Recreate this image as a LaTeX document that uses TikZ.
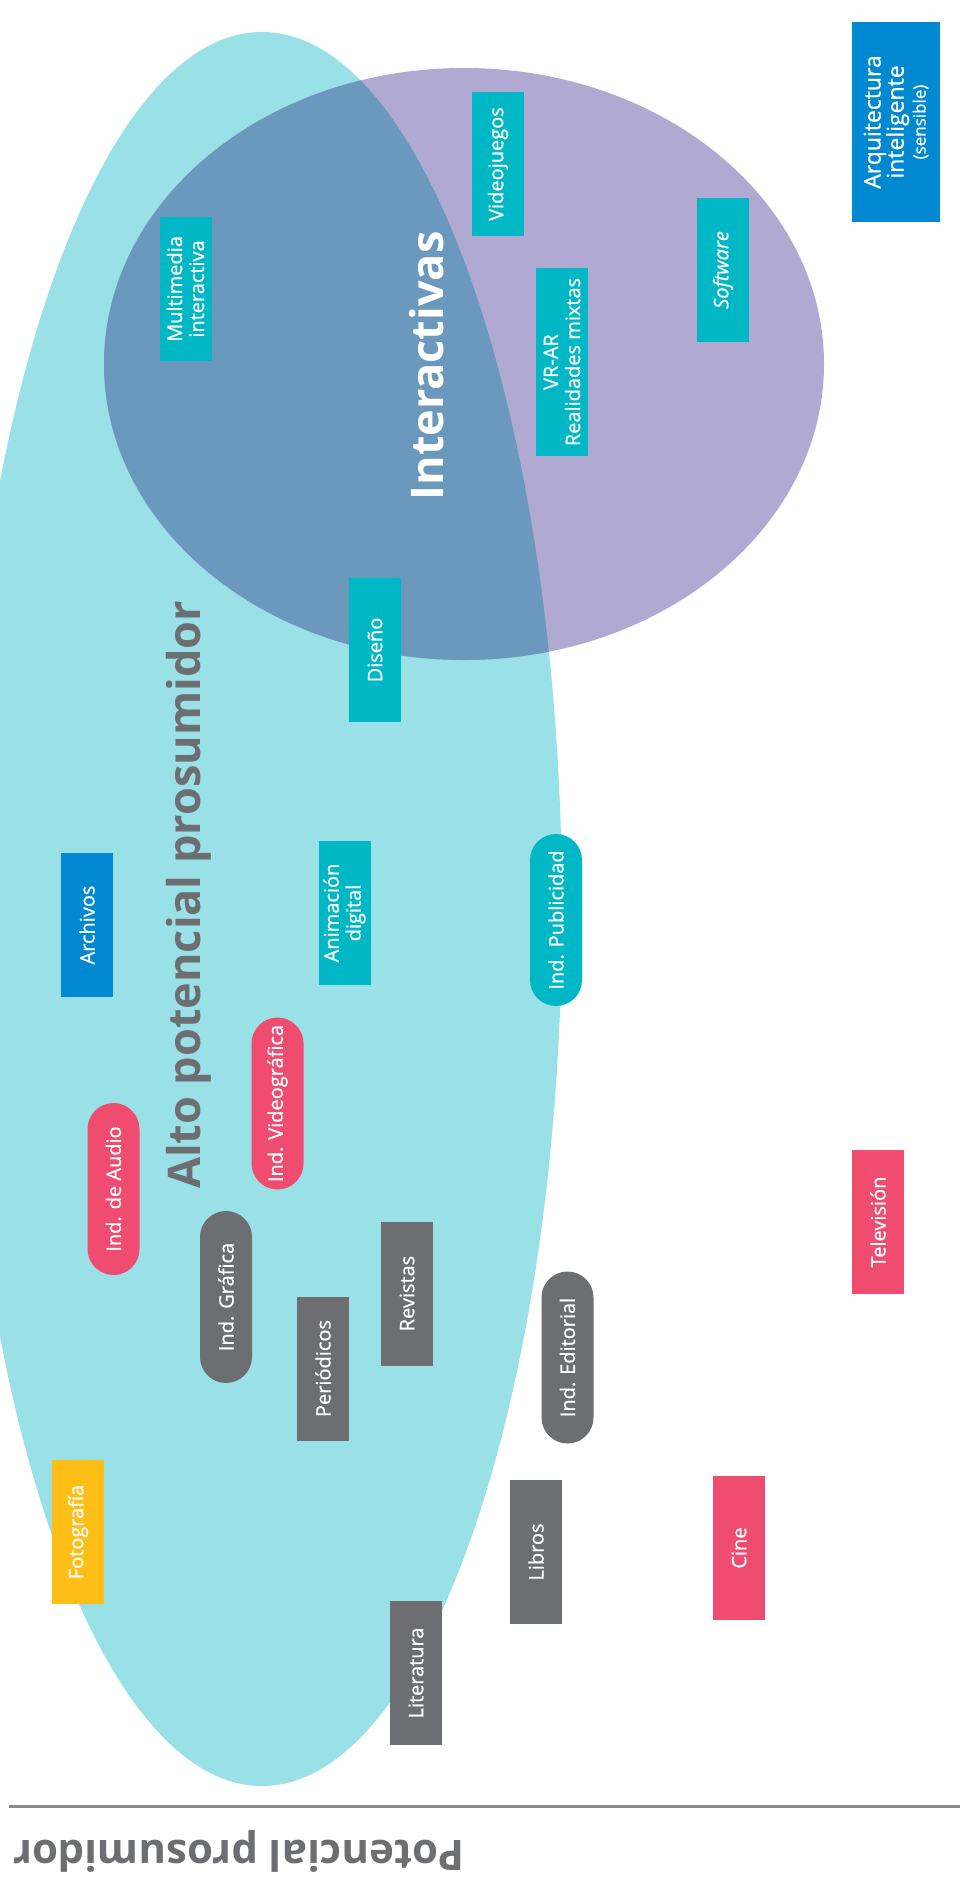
\documentclass[tikz,border=0pt]{standalone}
\usepackage{fontspec}
\setmainfont{Open Sans}
\newfontfamily\labelfont[FakeBold=0.7]{Open Sans}
\newfontfamily\labelitfont[FakeBold=0.7]{Open Sans Italic}

\definecolor{cyanzone}{HTML}{99E1E6}
\definecolor{purplezone}{HTML}{B0AAD3}
\definecolor{overlapzone}{HTML}{6A99BD}
\definecolor{tealbox}{HTML}{00B8C5}
\definecolor{bluebox}{HTML}{0088D0}
\definecolor{pinkbox}{HTML}{EF4C70}
\definecolor{greybox}{HTML}{6D6E72}
\definecolor{yellowbox}{HTML}{FFBE16}
\definecolor{axisgrey}{HTML}{8A8A8C}

\begin{document}
\begin{tikzpicture}[x=1pt, y=-1pt,
boxnode/.style={rectangle, rotate=90, inner sep=0pt, minimum width=144pt, minimum height=52pt, text=white, align=center, font=\labelfont\fontsize{20}{22}\selectfont},
boxnodeTeal/.style={boxnode, fill=tealbox},
boxnodeBlue/.style={boxnode, fill=bluebox},
boxnodePink/.style={boxnode, fill=pinkbox},
boxnodeGrey/.style={boxnode, fill=greybox},
boxnodeYellow/.style={boxnode, fill=yellowbox},
pillnode/.style={boxnode, rounded corners=26pt, minimum width=172pt},
pillnodeTeal/.style={pillnode, fill=tealbox},
pillnodePink/.style={pillnode, fill=pinkbox},
pillnodeGrey/.style={pillnode, fill=greybox},
zonelabel/.style={font=\bfseries\fontsize{45}{50}\selectfont, inner sep=0pt}]

\useasboundingbox (0,0) rectangle (960,1881);

% zones
\fill[cyanzone] (262,909) ellipse [x radius=300pt, y radius=877pt];
\fill[purplezone] (464,364) ellipse [x radius=360pt, y radius=296pt];
\begin{scope}
\clip (262,909) ellipse [x radius=300pt, y radius=877pt];
\fill[overlapzone] (464,364) ellipse [x radius=360pt, y radius=296pt];
\end{scope}

\node[zonelabel, rotate=90, text=white](interactivas) at (427, 366){Interactivas};
\node[zonelabel, rotate=90, text=greybox](altopotencial) at (189, 895){Alto potencial prosumidor};

% interactivas
\node[boxnodeBlue, minimum width=200pt, minimum height=88pt, font=\labelfont\fontsize{23}{23}\selectfont](arquitectura) at (896, 122){Arquitectura\\inteligente\\[-1pt]{\fontsize{17}{17}\selectfont(sensible)}};
\node[boxnodeTeal](videojuegos) at (498, 164){Videojuegos};
\node[boxnodeTeal, minimum width=188pt](realidades) at (562, 362){VR-AR\\Realidades mixtas};
\node[boxnodeTeal, font=\labelitfont\fontsize{20}{22}\selectfont](software) at (723, 270){Software};
\node[boxnodeTeal](multimedia) at (185.5, 289){Multimedia\\interactiva};
\node[boxnodeTeal](diseno) at (375, 650){Diseño};

% medio
\node[boxnodeBlue](archivos) at (87, 925){Archivos};
\node[boxnodeTeal](animacion) at (344.5, 913){Animación\\digital};
\node[pillnodeTeal](publicidad) at (556, 920){Ind. Publicidad};
\node[pillnodePink](videografica) at (277.5, 1103.5){Ind. Videográfica};
\node[pillnodePink](audio) at (113.5, 1189){Ind. de Audio};
\node[pillnodeGrey](grafica) at (226, 1297){Ind. Gráfica};
\node[boxnodeGrey](periodicos) at (323, 1368.5){Periódicos};
\node[boxnodeGrey](revistas) at (407, 1293.5){Revistas};
\node[pillnodeGrey](editorial) at (567.5, 1357.5){Ind. Editorial};
\node[boxnodePink](television) at (878, 1222){Televisión};

% bajo
\node[boxnodeYellow](fotografia) at (78, 1532){Fotografía};
\node[boxnodeGrey](libros) at (536, 1552){Libros};
\node[boxnodePink](cine) at (739, 1548){Cine};
\node[boxnodeGrey](literatura) at (416, 1673){Literatura};

% eje
\coordinate (ejeA) at (9, 1806);
\coordinate (ejeB) at (960, 1806);
\draw[axisgrey, line width=3pt](ejeA) -- (ejeB);
\node[zonelabel, rotate=180, text=greybox, font=\bfseries\fontsize{42}{46}\selectfont](potencial) at (239, 1851){Potencial prosumidor};

\end{tikzpicture}
\end{document}
